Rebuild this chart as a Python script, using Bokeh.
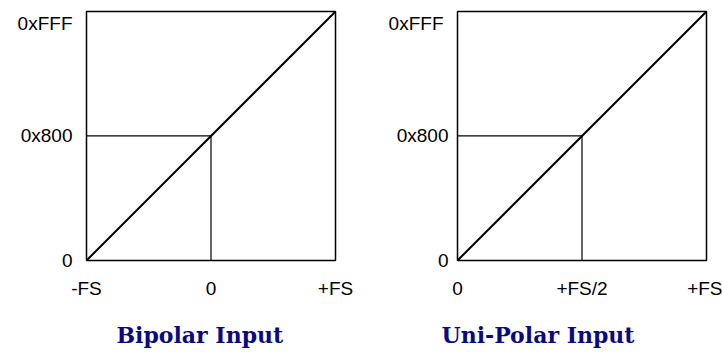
from bokeh.plotting import figure
from bokeh.layouts import row
from bokeh.models import Range1d, FixedTicker, LinearAxis, Title
from bokeh.embed import file_html
from bokeh.resources import INLINE

# ---- data ----
code_ticks = [0, 2048, 4095]
code_labels = ["0", "0x800", "0xFFF"]

bipolar_x = [-1, 0, 1]
bipolar_labels = ["-FS", "0", "+FS"]
bipolar_mid = 0

unipolar_x = [0, 0.5, 1]
unipolar_labels = ["0", "+FS/2", "+FS"]
unipolar_mid = 0.5

titles = ["Bipolar Input", "Uni-Polar Input"]

FRAME = 249
LABEL_FONT = "Liberation Sans"
LABEL_SIZE = "19px"


def style_axis(ax):
    ax.axis_line_color = None
    ax.major_tick_line_color = None
    ax.minor_tick_line_color = None
    ax.major_tick_out = 0
    ax.major_tick_in = 0
    ax.major_label_text_font = LABEL_FONT
    ax.major_label_text_font_size = LABEL_SIZE
    ax.major_label_text_color = "black"


def make(xs, xlabels, mid, title, border_left, border_right, title_dx, ystand, ystand_top):
    p = figure(width=border_left + FRAME + border_right, height=354,
               x_range=Range1d(xs[0], xs[-1]), y_range=Range1d(code_ticks[0], code_ticks[-1]),
               output_backend="svg", toolbar_location=None,
               min_border_left=border_left, min_border_right=border_right,
               min_border_top=11, min_border_bottom=94)
    p.grid.visible = False
    p.outline_line_color = "black"
    p.outline_line_width = 1.5
    p.outline_line_alpha = 1
    p.background_fill_color = "white"
    p.border_fill_color = "white"

    p.xaxis.ticker = FixedTicker(ticks=xs)
    # trailing empty line reserves room between the tick labels and the caption
    p.xaxis.major_label_overrides = {x: l + "\n" for x, l in zip(xs, xlabels)}
    p.xaxis.major_label_text_line_height = 0.86
    p.yaxis.ticker = FixedTicker(ticks=code_ticks[:-1])
    p.yaxis.major_label_overrides = {y: l for y, l in zip(code_ticks[:-1], code_labels[:-1])}
    style_axis(p.xaxis[0])
    style_axis(p.yaxis[0])
    p.xaxis.major_label_standoff = 17
    p.yaxis.major_label_standoff = ystand

    # full-scale code label sits just below the top edge
    top_ax = LinearAxis(ticker=FixedTicker(ticks=code_ticks[-1:]),
                        major_label_overrides={code_ticks[-1]: "\n" + code_labels[-1]})
    style_axis(top_ax)
    top_ax.major_label_text_line_height = 0.4
    top_ax.major_label_standoff = ystand_top
    p.add_layout(top_ax, "left")

    # guide lines to the mid-scale code
    p.line([xs[0], mid], [code_ticks[1], code_ticks[1]], line_color="black", line_width=1.2)
    p.line([mid, mid], [code_ticks[0], code_ticks[1]], line_color="black", line_width=1.2)
    # transfer function
    p.line([xs[0], xs[-1]], [code_ticks[0], code_ticks[-1]], line_color="black", line_width=2)

    t = Title(text=title, align="left", offset=title_dx, standoff=0,
              text_font="DejaVu Serif", text_font_style="bold",
              text_font_size="22px", text_color="#0a0a80")
    p.add_layout(t, "below")
    return p


p1 = make(bipolar_x, bipolar_labels, bipolar_mid, titles[0], 86, 26, 30, 14, -55)
p2 = make(unipolar_x, unipolar_labels, unipolar_mid, titles[1], 96, 16, -16, 9, -50)

layout = row(p1, p2, spacing=0)
open("out.html", "w").write(file_html(layout, INLINE))
